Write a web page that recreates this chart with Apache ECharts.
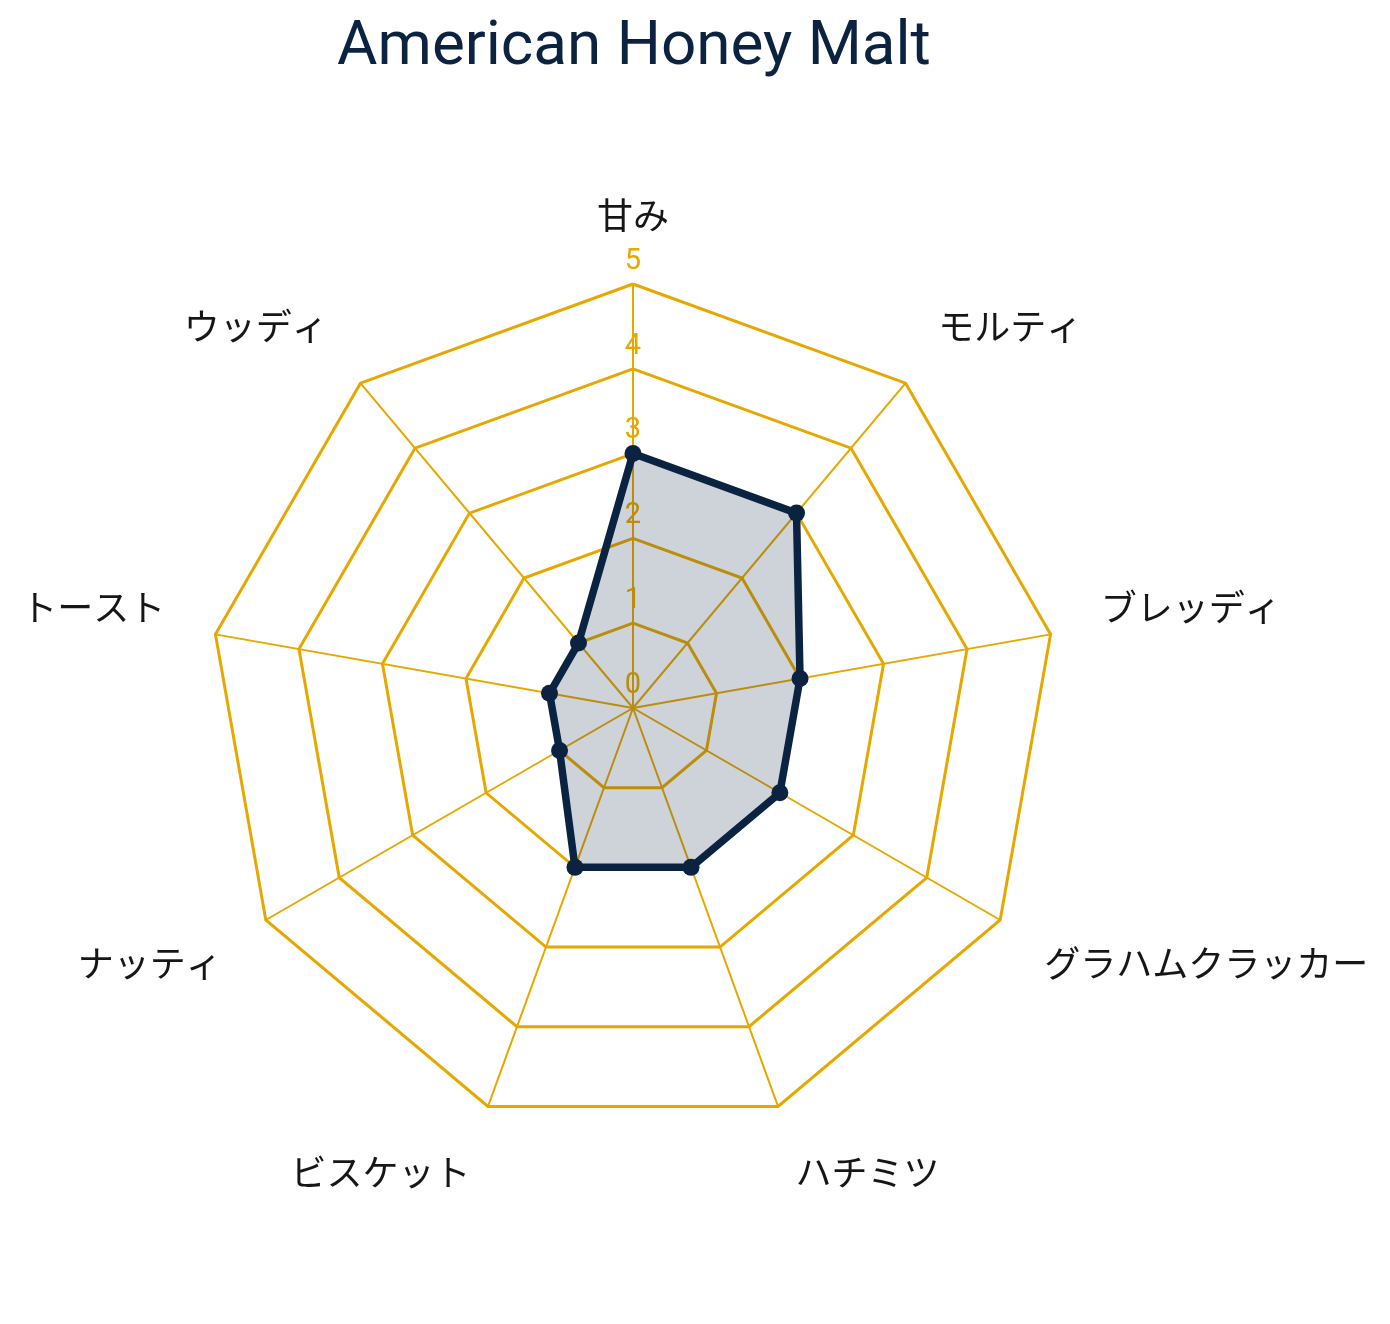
<!DOCTYPE html>
<html>
<head>
<meta charset="utf-8">
<script src="https://cdn.jsdelivr.net/npm/echarts@6/dist/echarts.min.js"></script>
<style>
html,body{margin:0;padding:0;background:#fff;}
#chart{width:1390px;height:1324px;}
</style>
</head>
<body>
<div id="chart"></div>
<script>
const titleText = 'American Honey Malt';
const categories = ['甘み', 'モルティ', 'ブレッディ', 'グラハムクラッカー', 'ハチミツ', 'ビスケット', 'ナッティ', 'トースト', 'ウッディ'];
const values = [3, 3, 2, 2, 2, 2, 1, 1, 1];
const maxValue = 5;

const GOLD = '#E6A800';
const NAVY = '#0B2341';

// ECharts lays indicators counter-clockwise; reorder so the picture runs clockwise
const order = [0];
for (let i = categories.length - 1; i >= 1; i--) order.push(i);

const n = categories.length;
const indicators = order.map(function (idx, k) {
  const theta = idx * 2 * Math.PI / n; // clockwise from top
  const s = Math.sin(theta), c = Math.cos(theta);
  const align = Math.abs(s) < 1e-6 ? 'center' : (s > 0 ? 'left' : 'right');
  const valign = c > 0 ? 'bottom' : 'top';
  const ind = {
    name: categories[idx],
    max: maxValue,
    min: 0,
    nameTextStyle: { align: align, verticalAlign: valign }
  };
  if (k === 0) {
    ind.axisLabel = {
      show: true,
      margin: 0,
      align: 'center',
      verticalAlign: 'bottom',
      padding: [0, 0, 8, 0],
      color: GOLD,
      fontSize: 29,
      fontFamily: 'Roboto'
    };
  }
  return ind;
});
const seriesData = order.map(function (idx) { return values[idx]; });

const chart = echarts.init(document.getElementById('chart'), null, { renderer: 'canvas' });
chart.setOption({
  animation: false,
  backgroundColor: '#ffffff',
  title: {
    text: titleText,
    left: 629,
    textAlign: 'center',
    top: 12,
    textStyle: { fontFamily: 'Roboto', fontSize: 62, fontWeight: 'normal', color: NAVY }
  },
  radar: {
    center: [633, 708],
    radius: 424,
    shape: 'polygon',
    splitNumber: 5,
    nameGap: 51,
    axisName: { color: '#161616', fontSize: 36, fontFamily: '"Noto Sans CJK JP", sans-serif' },
    indicator: indicators,
    axisLabel: { show: false },
    axisTick: { show: false },
    axisLine: { lineStyle: { color: GOLD, width: 2 } },
    splitLine: { lineStyle: { color: GOLD, width: 3 } },
    splitArea: { show: false }
  },
  series: [{
    type: 'radar',
    symbol: 'circle',
    symbolSize: 17,
    lineStyle: { color: NAVY, width: 7.5 },
    itemStyle: { color: NAVY },
    areaStyle: { color: NAVY, opacity: 0.2 },
    data: [{ value: seriesData, name: titleText }]
  }]
});
</script>
</body>
</html>
